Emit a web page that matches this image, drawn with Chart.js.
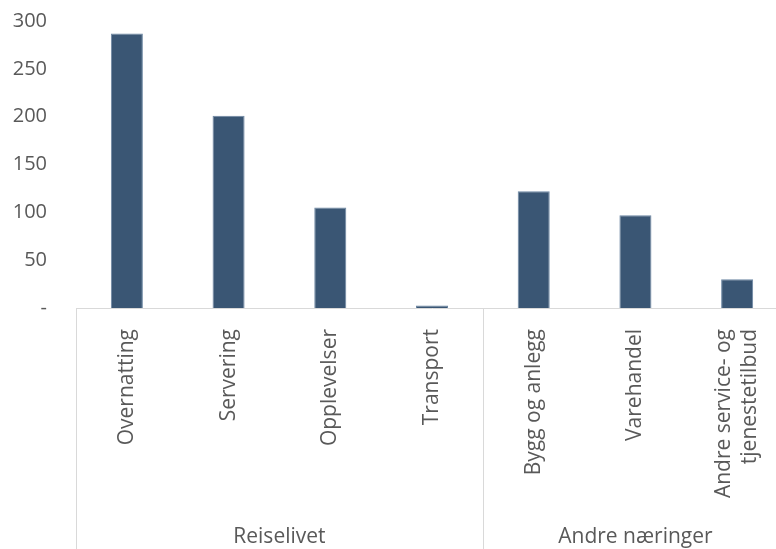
<!DOCTYPE html>
<html>
<head>
<meta charset="utf-8">
<script src="https://cdn.jsdelivr.net/npm/chart.js@4"></script>
<style>
    html, body { margin: 0; padding: 0; overflow: hidden; background: #fff; }
    #myChart { display: block; width: 790px; height: 549px; }
</style>
</head>
<body>
<canvas id="myChart" width="790" height="549"></canvas>
<script>
const categories = ["Overnatting", "Servering", "Opplevelser", "Transport", "Bygg og anlegg", "Varehandel", ["Andre service- og", "tjenestetilbud"]];
const values = [287, 201, 105, 2.5, 122, 97, 30];
const groups = ["Reiselivet", "Andre næringer"];
const groupSizes = [4, 3];
const yTicks = [0, 50, 100, 150, 200, 250, 300];

const textColor = "#595959";
const lineColor = "#d9d9d9";
const fontFamily = "'Open Sans', sans-serif";
const labelSize = 21;
const tickSize = 20;

// category labels (rotated) + group row under them
const groupPlugin = {
    id: "groups",
    afterDraw(chart) {
        const c = chart.ctx;
        const x = chart.scales.x;
        const bottom = chart.chartArea.bottom;
        const h = chart.height;
        const step = x.getPixelForTick(1) - x.getPixelForTick(0);
        const lh = labelSize * 1.22;
        c.save();
        c.fillStyle = textColor;
        c.font = labelSize + "px " + fontFamily;

        categories.forEach((lab, i) => {
            const lines = Array.isArray(lab) ? lab : [lab];
            c.save();
            c.translate(x.getPixelForTick(i), bottom + 21);
            c.rotate(-Math.PI / 2);
            c.textAlign = "right";
            c.textBaseline = "middle";
            lines.forEach((t, j) => c.fillText(t, 0, (j - (lines.length - 1) / 2) * lh));
            c.restore();
        });

        c.strokeStyle = lineColor;
        c.lineWidth = 1;
        c.textAlign = "center";
        c.textBaseline = "alphabetic";
        let start = 0;
        groupSizes.forEach((n, i) => {
            const left = x.getPixelForTick(start) - step / 2;
            const right = x.getPixelForTick(start + n - 1) + step / 2;
            c.beginPath();
            c.moveTo(Math.round(left) + 0.5, bottom);
            c.lineTo(Math.round(left) + 0.5, h);
            c.stroke();
            c.fillText(groups[i], (left + right) / 2, h - 6);
            start += n;
        });
        c.restore();
    }
};

const ctx = document.getElementById("myChart").getContext("2d");
const myChart = new Chart(ctx, {
    type: "bar",
    data: {
        labels: categories,
        datasets: [{
            data: values,
            backgroundColor: "#3a5674",
            borderColor: "#6d87a3",
            borderWidth: { left: 1, right: 1, top: 1, bottom: 0 },
            barPercentage: 0.315,
            categoryPercentage: 1,
        }, ],
    },
    options: {
        animation: false,
        responsive: false,
        devicePixelRatio: 1,
        layout: { padding: { top: 21, left: 0, right: 2, bottom: 0 } },
        plugins: {
            legend: { display: false },
            tooltip: { enabled: false },
        },
        scales: {
            x: {
                grid: { display: false, drawTicks: false },
                border: { color: lineColor, width: 1 },
                ticks: { display: false },
                afterFit: s => {
                    s.height = 241;
                    s.paddingLeft = 0;
                    s.paddingRight = 0;
                    s.paddingTop = 0;
                    s.paddingBottom = 0;
                },
            },
            y: {
                min: 0,
                max: 300,
                afterBuildTicks: s => { s.ticks = yTicks.map(v => ({ value: v })); },
                grid: { display: false, drawTicks: false },
                border: { display: false },
                ticks: {
                    color: textColor,
                    font: { size: tickSize, family: fontFamily },
                    padding: 29,
                    callback: v => v === 0 ? "-" : v,
                },
                afterFit: s => {
                    s.width = 76;
                    s.paddingTop = 0;
                    s.paddingBottom = 0;
                },
            },
        },
    },
    plugins: [groupPlugin],
});
</script>
</body>
</html>
